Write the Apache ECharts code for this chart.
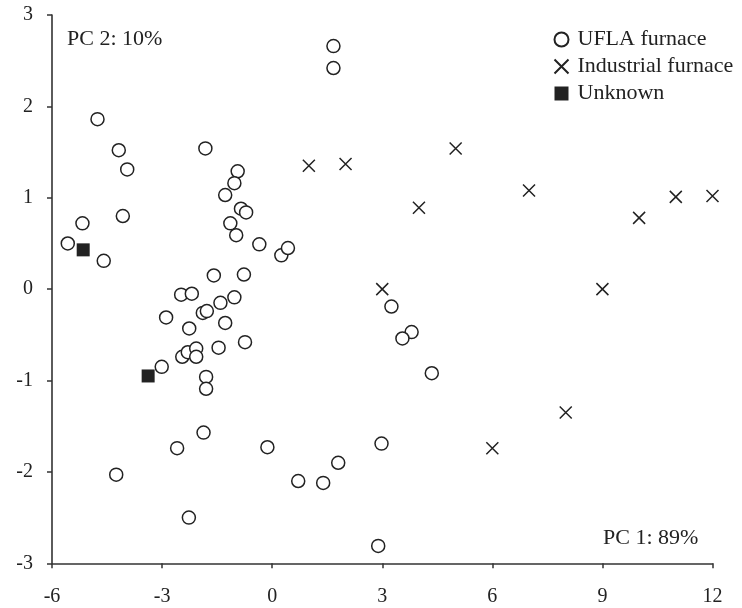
<!DOCTYPE html>
<html>
<head>
<meta charset="utf-8">
<script src="https://cdn.jsdelivr.net/npm/echarts@6/dist/echarts.min.js"></script>
<style>
html,body{margin:0;padding:0;background:#fff;}
#chart{width:742px;height:608px;}
</style>
</head>
<body>
<div id="chart"></div>
<script>
var xTicks = [-6, -3, 0, 3, 6, 9, 12];
var yTicks = [-3, -2, -1, 0, 1, 2, 3];

var uflaFurnace = [
  [1.67, 2.66], [1.67, 2.42],
  [-4.76, 1.86], [-4.18, 1.52], [-3.95, 1.31], [-1.82, 1.54],
  [-0.94, 1.29], [-1.03, 1.16], [-1.28, 1.03], [-4.07, 0.80],
  [-5.17, 0.72], [-0.85, 0.88], [-0.71, 0.84], [-1.14, 0.72],
  [-0.98, 0.59], [-5.57, 0.50], [-4.59, 0.31], [-0.35, 0.49],
  [0.25, 0.37], [0.43, 0.45], [-1.59, 0.15], [-0.77, 0.16],
  [-2.48, -0.06], [-2.19, -0.05], [-1.41, -0.15], [-1.03, -0.09],
  [-2.89, -0.31], [-1.89, -0.26], [-1.78, -0.24], [-1.28, -0.37],
  [-2.26, -0.43], [-0.74, -0.58], [-1.46, -0.64], [-2.45, -0.74],
  [-2.30, -0.69], [-2.07, -0.65], [-2.07, -0.74], [-3.01, -0.85],
  [-1.80, -0.96], [-1.80, -1.09], [-1.87, -1.57], [-2.59, -1.74],
  [-0.13, -1.73], [-4.25, -2.03], [-2.27, -2.50], [0.71, -2.10],
  [1.39, -2.12], [1.80, -1.90], [2.98, -1.69], [2.89, -2.81],
  [3.25, -0.19], [3.80, -0.47], [3.55, -0.54], [4.35, -0.92]
];

var industrialFurnace = [
  [1, 1.35], [2, 1.37], [3, 0.0], [4, 0.89], [5, 1.54], [6, -1.74],
  [7, 1.08], [8, -1.35], [9, 0.0], [10, 0.78], [11, 1.01], [12, 1.02]
];

var unknownSamples = [
  [-5.15, 0.43], [-3.38, -0.95]
];

var seriesNames = ['UFLA furnace', 'Industrial furnace', 'Unknown'];
var pc1Label = 'PC 1: 89%';
var pc2Label = 'PC 2: 10%';

var FONT = 'Liberation Serif, Times New Roman, serif';
var INK = '#222222';
var XPATH = 'path://M0,0L10,10M10,0L0,10';

var chart = echarts.init(document.getElementById('chart'), null, {renderer: 'canvas'});

var option = {
  animation: false,
  backgroundColor: '#ffffff',
  grid: {left: 52, right: 29.5, top: 15, bottom: 44.7, containLabel: false},
  xAxis: {
    type: 'value', min: xTicks[0], max: xTicks[xTicks.length - 1], interval: 3,
    axisLine: {onZero: false, lineStyle: {color: '#333', width: 1.6}},
    axisTick: {show: true, inside: false, length: 5, lineStyle: {color: '#333', width: 1.5}},
    axisLabel: {margin: 23, fontFamily: FONT, fontSize: 20, color: INK},
    splitLine: {show: false}
  },
  yAxis: {
    type: 'value', min: yTicks[0], max: yTicks[yTicks.length - 1], interval: 1,
    axisLine: {show: true, onZero: false, lineStyle: {color: '#333', width: 1.6}},
    axisTick: {show: true, inside: false, length: 5, lineStyle: {color: '#333', width: 1.5}},
    axisLabel: {margin: 19, fontFamily: FONT, fontSize: 20, color: INK},
    splitLine: {show: false}
  },
  legend: {
    orient: 'vertical', left: 547, top: 23,
    itemWidth: 14, itemHeight: 14, itemGap: 4,
    textStyle: {fontFamily: FONT, fontSize: 22, color: INK, padding: [0, 0, 0, 4], lineHeight: 23},
    data: [
      {name: seriesNames[0], icon: 'circle'},
      {name: seriesNames[1], icon: XPATH},
      {name: seriesNames[2], icon: 'rect'}
    ]
  },
  graphic: [
    {type: 'text', left: 67, top: 28, style: {text: pc2Label, font: '22px ' + FONT, fill: INK}},
    {type: 'text', left: 603, top: 527, style: {text: pc1Label, font: '22px ' + FONT, fill: INK}}
  ],
  series: [
    {
      name: seriesNames[0], type: 'scatter', data: uflaFurnace,
      symbol: 'circle', symbolSize: 13,
      itemStyle: {color: '#ffffff', borderColor: INK, borderWidth: 1.5, opacity: 1},
      z: 2
    },
    {
      name: seriesNames[1], type: 'scatter', data: industrialFurnace,
      symbol: XPATH, symbolSize: 12,
      itemStyle: {color: 'none', borderColor: INK, borderWidth: 1.5, opacity: 1},
      z: 3
    },
    {
      name: seriesNames[2], type: 'scatter', data: unknownSamples,
      symbol: 'rect', symbolSize: 13,
      itemStyle: {color: INK, borderColor: INK, borderWidth: 0, opacity: 1},
      z: 4
    }
  ]
};
chart.setOption(option);
</script>
</body>
</html>
